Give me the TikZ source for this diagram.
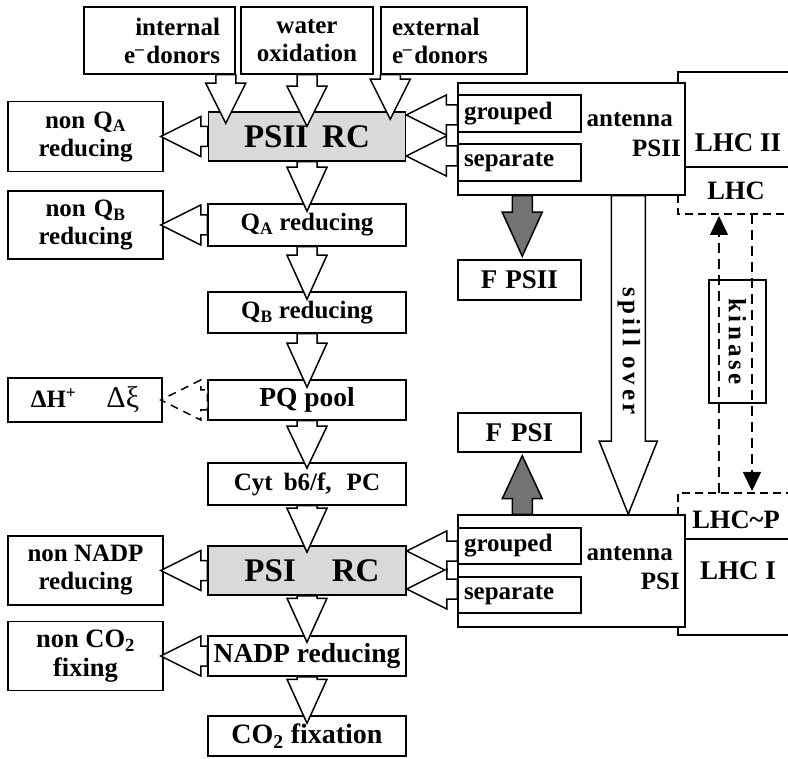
\documentclass[tikz,border=0pt]{standalone}
\usepackage{fontspec}
\setmainfont{Liberation Serif}
\usetikzlibrary{calc,arrows.meta}

\tikzset{
 box/.style={draw, line width=1.5pt, fill=white, rectangle, inner sep=0pt, align=center},
 rcbox/.style={box, fill=black!15},
 wh/.style 2 args={minimum width=#1pt, minimum height=#2pt},
 fs/.style={font=\fontsize{#1}{#1}\selectfont\bfseries},
 barr/.style={draw, line width=1.5pt, fill=white, line join=miter},
 garr/.style={draw, line width=1.5pt, fill=black!55, line join=miter},
 darr/.style={draw, line width=1.5pt, fill=white, dash pattern=on 8pt off 6pt},
 lhcline/.style={line width=1.5pt},
 lhcdash/.style={line width=1.5pt, dash pattern=on 8pt off 5pt},
 kdash/.style={line width=1.6pt, dash pattern=on 10pt off 6pt, -{Triangle[width=18pt,length=19pt]}},
 lbl/.style={inner sep=0pt},
}

% block arrow: style, from, to, shaft half width, head half width, head length
\newcommand\barrow[6]{%
  \path (#2) coordinate (ba-a);
  \path (#3) coordinate (ba-b);
  \path ($(ba-b)!#6pt!(ba-a)$) coordinate (ba-h);
  \draw[#1] ($(ba-a)!#4pt!90:(ba-b)$) -- ($(ba-h)!#4pt!-90:(ba-a)$) -- ($(ba-h)!#5pt!-90:(ba-a)$) -- (ba-b) -- ($(ba-h)!#5pt!90:(ba-a)$) -- ($(ba-h)!#4pt!90:(ba-a)$) -- ($(ba-a)!#4pt!-90:(ba-b)$) -- cycle;
}

\begin{document}
\begin{tikzpicture}[x=1pt,y=-1pt, every node/.style={font=\fontsize{25}{28}\selectfont\bfseries}]
\useasboundingbox (0,0) rectangle (788,759);

% LHC background outlines
\draw[lhcline] (795,167) -- (678,167) -- (678,72) -- (795,72);
\draw[lhcdash] (678,195) -- (678,214) -- (795,214);
\draw[lhcdash] (678,515) -- (678,493) -- (795,493);
\draw[lhcline] (795,539) -- (678,539) -- (678,635) -- (795,635);

% kinase
\coordinate (k1s) at (719,493);
\coordinate (k1e) at (719,216);
\coordinate (k2s) at (752,214);
\coordinate (k2e) at (752,491);
\draw[kdash] (k1s) -- (k1e);
\draw[kdash] (k2s) -- (k2e);
\node[box, fill=none, rotate=-90, wh={123}{57}] (kin) at (737.5,341.5) {\addfontfeature{LetterSpace=15}kinase};

% top boxes
\node[box, wh={151}{67}, text width=121pt, align=right] (internal) at (159.5,40.5) {internal\\e\textsuperscript{–}\hspace{2pt}donors};
\node[box, wh={132}{67}] (water) at (307,40.5) {water\\oxidation};
\node[box, wh={146}{67}, text width=124pt, align=left] (external) at (454,40.5) {external\\e\textsuperscript{–}\hspace{2pt}donors};

% central column
\node[rcbox, wh={197}{49}, fs=33] (psii) at (307,136.5) {PSII\hspace{14pt}RC};
\node[box, wh={198}{42}] (qa) at (307,225) {Q\textsubscript{A} reducing};
\node[box, wh={198}{41}] (qb) at (307,312.5) {Q\textsubscript{B} reducing};
\node[box, wh={198}{40}, fs=27.5] (pq) at (307,400) {PQ pool};
\node[box, wh={198}{42}] (cyt) at (307,484) {Cyt\hspace{11pt}b6/f,\hspace{15pt}PC};
\node[rcbox, wh={198}{49}, fs=33] (psi) at (307,570.5) {\hspace*{10pt}PSI\hspace{36pt}RC};
\node[box, wh={198}{40}, fs=27.5] (nadp) at (307,656) {NADP reducing};
\node[box, wh={198}{40}, fs=28] (co2) at (307,736) {CO\textsubscript{2} fixation};

% left column
\node[box, wh={155}{70}] (nonqa) at (85.5,136.5) {non\hspace{8pt}Q\textsubscript{A}\\reducing};
\node[box, wh={155}{68}] (nonqb) at (85.5,225) {non\hspace{8pt}Q\textsubscript{B}\\reducing};
\node[box, wh={154}{44}] (dh) at (85,400) {ΔH\textsuperscript{+}\hspace{30pt}{\fontsize{30}{30}\selectfont\mdseries Δξ}};
\node[box, wh={155}{69}] (nonnadp) at (85.5,570.5) {non NADP\\reducing};
\node[box, wh={155}{69}, font=\fontsize{26.5}{29}\selectfont\bfseries] (nonco2) at (85.5,656) {non CO\textsubscript{2}\\fixing};

% antenna PSII
\node[box, wh={227}{112}] (antII) at (571.5,139) {};
\node[box, wh={123}{37}, text width=111pt, align=left] (grp2) at (519.5,113.5) {grouped};
\node[box, wh={123}{37}, text width=111pt, align=left] (sep2) at (519.5,162.5) {separate};
\node[lbl, anchor=base east] (antIIa) at (673,127) {antenna};
\node[lbl, anchor=base east] (antIIb) at (681,157) {PSII};
\node[box, wh={123}{40}, fs=27] (fpsii) at (519.5,280) {F\hspace{8pt}PSII};

% antenna PSI
\node[box, wh={123}{39}, fs=27] (fpsi) at (519.5,432.5) {F\hspace{9pt}PSI};
\node[box, wh={227}{112}] (antI) at (571.5,571) {};
\node[box, wh={123}{36}, text width=111pt, align=left] (grp1) at (519.5,546) {grouped};
\node[box, wh={123}{36}, text width=111pt, align=left] (sep1) at (519.5,595) {separate};
\node[lbl, anchor=base east] (antIa) at (673,560) {antenna};
\node[lbl, anchor=base east] (antIb) at (680,589) {PSI};

% LHC labels
\node[lbl, fs=27] (lhc2) at (738,143) {LHC II};
\node[lbl, fs=26.5] (lhc) at (736,191) {LHC};
\node[lbl, fs=26.5] (lhcp) at (736,520) {LHC\textasciitilde P};
\node[lbl, fs=27] (lhc1) at (738,571) {LHC I};

% arrows from donors
\path ($(internal.south east)+(-10,0)$) coordinate (a1s);
\path (a1s |- psii.north) ++(0,12) coordinate (a1e);
\barrow{barr}{a1s}{a1e}{10}{20}{40}
\path (water.south) coordinate (a2s);
\path (a2s |- psii.north) ++(0,15) coordinate (a2e);
\barrow{barr}{a2s}{a2e}{10}{20}{40}
\path ($(external.south west)+(10,0)$) coordinate (a3s);
\path (a3s |- psii.north) ++(0,8) coordinate (a3e);
\barrow{barr}{a3s}{a3e}{10}{20}{40}

% central chain
\barrow{barr}{psii.south}{$(qa.north)+(0,8)$}{10}{20}{44}
\barrow{barr}{qa.south}{$(qb.north)+(0,8)$}{10}{20}{44}
\barrow{barr}{qb.south}{$(pq.north)+(0,8)$}{10}{20}{44}
\barrow{barr}{pq.south}{$(cyt.north)+(0,6)$}{10}{20}{42}
\barrow{barr}{cyt.south}{$(psi.north)+(0,7)$}{10}{20}{44}
\barrow{barr}{psi.south}{$(nadp.north)+(0,7)$}{10}{20}{44}
\barrow{barr}{nadp.south}{$(co2.north)+(0,8)$}{10}{20}{44}

% side branches
\barrow{barr}{psii.west}{$(nonqa.east)+(-3,0)$}{10}{20}{40}
\barrow{barr}{qa.west}{$(nonqb.east)+(-3,0)$}{10}{20}{40}
\barrow{darr}{pq.west}{$(dh.east)+(-2,0)$}{10}{20}{40}
\barrow{barr}{psi.west}{$(nonnadp.east)+(-3,0)$}{10}{20}{40}
\barrow{barr}{nadp.west}{$(nonco2.east)+(-3,0)$}{10}{20}{40}

% antenna to RC
\path ($(grp2.west)+(0,1.5)$) coordinate (g2s);
\path (g2s -| psii.east) coordinate (g2e);
\barrow{barr}{g2s}{g2e}{10}{20}{40}
\path ($(sep2.west)+(0,-6.5)$) coordinate (s2s);
\path (s2s -| psii.east) coordinate (s2e);
\barrow{barr}{s2s}{s2e}{10}{20}{40}
\path ($(grp1.west)+(0,5)$) coordinate (g1s);
\path (g1s -| psi.east) coordinate (g1e);
\barrow{barr}{g1s}{g1e}{10}{20}{40}
\path ($(sep1.west)+(0,-6)$) coordinate (s1s);
\path (s1s -| psi.east) coordinate (s1e);
\barrow{barr}{s1s}{s1e}{10}{20}{40}

% fluorescence
\path ($(antII.south west)+(65,0)$) coordinate (f2s);
\path (f2s |- fpsii.north) ++(0,-3) coordinate (f2e);
\barrow{garr}{f2s}{f2e}{10}{20}{44}
\path ($(antI.north west)+(65,0)$) coordinate (f1s);
\path (f1s |- fpsi.south) ++(0,3) coordinate (f1e);
\barrow{garr}{f1s}{f1e}{10}{20}{43}

% spill over
\path ($(antII.south west)+(171,0)$) coordinate (sps);
\path (sps |- antI.north) coordinate (spe);
\barrow{barr}{sps}{spe}{17}{29}{73}
\node[lbl, rotate=-90] (spill) at (629,351) {\addfontfeature{LetterSpace=15}spill over};

\end{tikzpicture}
\end{document}
